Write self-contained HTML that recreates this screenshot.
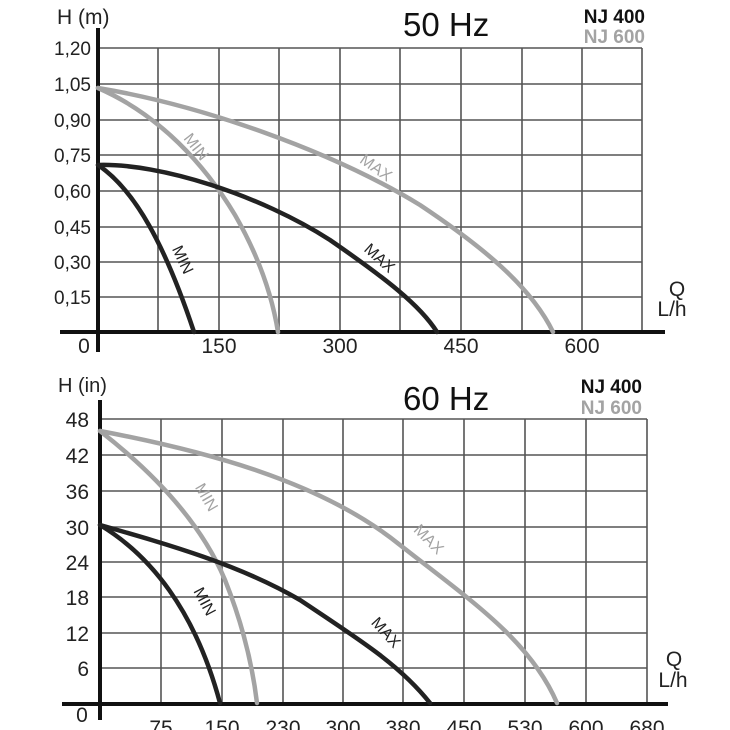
<!DOCTYPE html>
<html><head><meta charset="utf-8"><style>
html,body{margin:0;padding:0;background:#fff;}
svg{display:block;font-family:"Liberation Sans",sans-serif;}
</style></head><body>
<svg width="730" height="730" viewBox="0 0 730 730" xmlns="http://www.w3.org/2000/svg">
<!-- TOP CHART -->
<g stroke="#555" stroke-width="1.6" fill="none">
<path d="M98 48H642M98 84H642M98 120H642M98 155H642M98 191H642M98 227H642M98 262H642M98 297H642"/>
<path d="M158 48V332M219 48V332M279 48V332M340 48V332M400 48V332M461 48V332M522 48V332M582 48V332M642 48V332"/>
</g>
<path d="M60 332H665M98 28V352" stroke="#111" stroke-width="4" fill="none"/>
<g fill="none" stroke-width="4.5" stroke-linecap="round">
<path d="M98 88 C 200 105, 330 150, 420 205 C 480 245, 530 285, 553 332" stroke="#a3a3a3"/>
<path d="M98 88 C 160 115, 205 165, 235 215 C 258 255, 272 295, 278 332" stroke="#a3a3a3"/>
<path d="M98 165 C 160 163, 260 195, 330 240 C 385 278, 420 305, 437 332" stroke="#222"/>
<path d="M98 165 C 135 190, 165 245, 194 332" stroke="#222"/>
</g>
<g font-size="16">
<text x="192" y="150" fill="#a3a3a3" transform="rotate(52 192 150)" text-anchor="middle">MIN</text>
<text x="373" y="172" fill="#a3a3a3" transform="rotate(35 373 172)" text-anchor="middle">MAX</text>
<text x="178" y="262" fill="#222" transform="rotate(65 178 262)" text-anchor="middle">MIN</text>
<text x="376" y="262" fill="#222" transform="rotate(42 376 262)" text-anchor="middle">MAX</text>
</g>
<text x="57" y="24" font-size="21" fill="#222">H (m)</text>
<text x="403" y="36" font-size="33" fill="#111">50 Hz</text>
<text x="645" y="23" font-size="19" font-weight="bold" fill="#111" text-anchor="end">NJ 400</text>
<text x="645" y="43" font-size="19" font-weight="bold" fill="#a3a3a3" text-anchor="end">NJ 600</text>
<g font-size="19" fill="#222" text-anchor="end">
<text x="91" y="55">1,20</text><text x="91" y="91">1,05</text><text x="91" y="127">0,90</text>
<text x="91" y="162">0,75</text><text x="91" y="198">0,60</text><text x="91" y="234">0,45</text>
<text x="91" y="269">0,30</text><text x="91" y="304">0,15</text>
</g>
<g font-size="21" fill="#222" text-anchor="middle">
<text x="84" y="353">0</text><text x="219" y="353">150</text><text x="340" y="353">300</text>
<text x="461" y="353">450</text><text x="582" y="353">600</text>
<text x="677" y="296">Q</text><text x="672" y="316">L/h</text>
</g>
<!-- BOTTOM CHART -->
<g stroke="#555" stroke-width="1.6" fill="none">
<path d="M100 419H647M100 455H647M100 491H647M100 527H647M100 562H647M100 597H647M100 633H647M100 668H647"/>
<path d="M161 419V704M222 419V704M283 419V704M343 419V704M403 419V704M464 419V704M525 419V704M586 419V704M647 419V704"/>
</g>
<path d="M62 704H668M100 400V720" stroke="#111" stroke-width="4" fill="none"/>
<g fill="none" stroke-width="4.5" stroke-linecap="round">
<path d="M100 431 C 200 450, 320 480, 400 545 C 470 600, 530 640, 557 703" stroke="#a3a3a3"/>
<path d="M100 431 C 150 470, 200 520, 225 580 C 245 630, 253 670, 257 703" stroke="#a3a3a3"/>
<path d="M100 525 C 170 545, 240 565, 300 600 C 360 640, 400 665, 430 703" stroke="#222"/>
<path d="M100 525 C 150 555, 195 610, 220 703" stroke="#222"/>
</g>
<g font-size="16">
<text x="202" y="500" fill="#a3a3a3" transform="rotate(60 202 500)" text-anchor="middle">MIN</text>
<text x="425" y="543" fill="#a3a3a3" transform="rotate(45 425 543)" text-anchor="middle">MAX</text>
<text x="200" y="604" fill="#222" transform="rotate(62 200 604)" text-anchor="middle">MIN</text>
<text x="382" y="636" fill="#222" transform="rotate(48 382 636)" text-anchor="middle">MAX</text>
</g>
<text x="58" y="392" font-size="20" fill="#222">H (in)</text>
<text x="403" y="410" font-size="33" fill="#111">60 Hz</text>
<text x="642" y="393" font-size="19" font-weight="bold" fill="#111" text-anchor="end">NJ 400</text>
<text x="642" y="414" font-size="19" font-weight="bold" fill="#a3a3a3" text-anchor="end">NJ 600</text>
<g font-size="21" fill="#222" text-anchor="end">
<text x="89" y="427">48</text><text x="89" y="463">42</text><text x="89" y="499">36</text>
<text x="89" y="535">30</text><text x="89" y="570">24</text><text x="89" y="605">18</text>
<text x="89" y="641">12</text><text x="89" y="676">6</text>
</g>
<g font-size="21" fill="#222" text-anchor="middle">
<text x="82" y="722">0</text>
<text x="161" y="735">75</text><text x="222" y="735">150</text><text x="283" y="735">230</text>
<text x="343" y="735">300</text><text x="403" y="735">380</text><text x="464" y="735">450</text>
<text x="525" y="735">530</text><text x="586" y="735">600</text><text x="647" y="735">680</text>
<text x="674" y="666">Q</text><text x="673" y="687">L/h</text>
</g>
</svg>
</body></html>
